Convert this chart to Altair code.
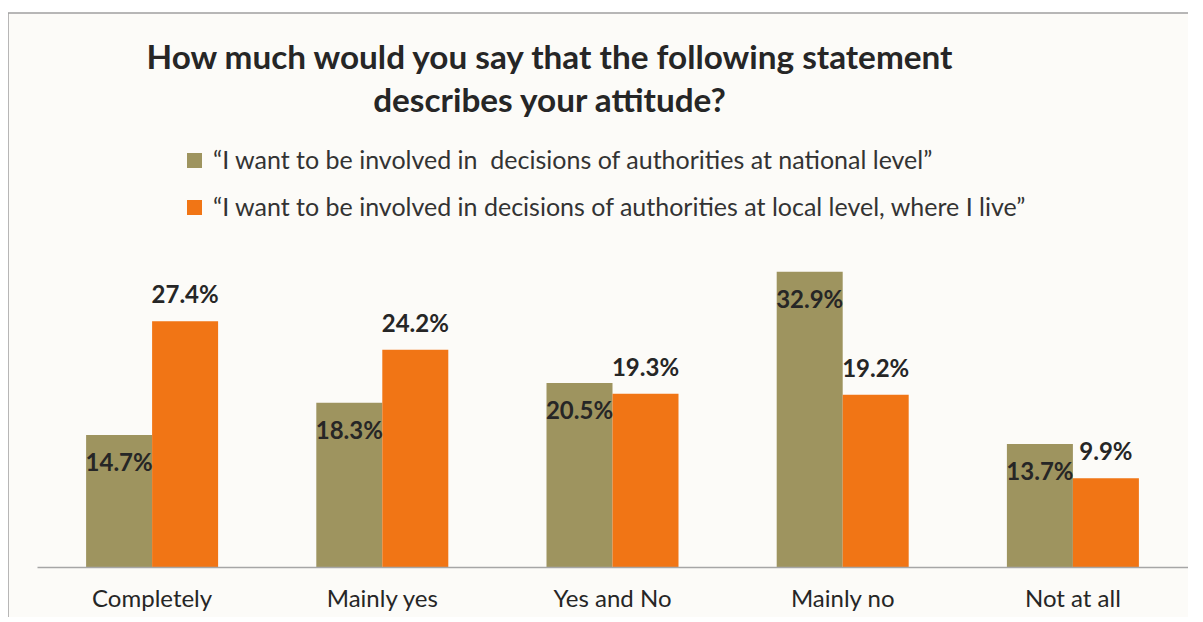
import altair as alt
import pandas as pd

categories = ["Completely", "Mainly yes", "Yes and No", "Mainly no", "Not at all"]
national = [14.7, 18.3, 20.5, 32.9, 13.7]
local = [27.4, 24.2, 19.3, 19.2, 9.9]
series = [
    "\u201cI want to be involved in \u00a0decisions of authorities at national level\u201d",
    "\u201cI want to be involved in decisions of authorities at local level, where I live\u201d",
]
colors = ["#9E945F", "#F17515"]

rows = []
for c, a, b in zip(categories, national, local):
    rows.append({"category": c, "series": series[0], "value": a})
    rows.append({"category": c, "series": series[1], "value": b})
df = pd.DataFrame(rows)

FONT = "Lato"
PLOT_W, PLOT_H = 1151, 323

x = alt.X("category:N", sort=categories, title=None,
          scale=alt.Scale(paddingInner=0.4266, paddingOuter=0.2133),
          axis=alt.Axis(labelAngle=0, labelFontSize=24, labelFont=FONT, labelColor="#262626",
                        ticks=False, labelPadding=20, domainColor="#A6A6A6", domainWidth=1.5,
                        zindex=1))
y = alt.Y("value:Q", scale=alt.Scale(domain=[0, 36]), axis=None)
xo = alt.XOffset("series:N", sort=series)

base = alt.Chart(df)

frame = alt.Chart(pd.DataFrame({"k": [0]})).mark_rect(
    fill="#FCFBF8", stroke="#A0A0A0", strokeWidth=1.5
).encode(x=alt.value(-29), x2=alt.value(1200), y=alt.value(-231), y2=alt.value(400))

bars = base.mark_bar().encode(
    x=x, xOffset=xo, y=y,
    color=alt.Color("series:N", sort=series,
                    scale=alt.Scale(domain=series, range=colors),
                    legend=alt.Legend(title=None, orient="none", legendX=145, legendY=-96,
                                      symbolType="square", symbolSize=225, symbolStrokeWidth=0,
                                      labelFontSize=25, labelFont=FONT, labelColor="#333333",
                                      labelLimit=1000, rowPadding=21, padding=0, labelOffset=6)),
)

lab = base.transform_calculate(label="format(datum.value, '.1f') + '%'")

text_nat = lab.transform_filter(alt.datum.series == series[0]).mark_text(
    fontSize=24, fontWeight="bold", font=FONT, color="#262626", baseline="middle", dy=29
).encode(x=x, xOffset=xo, y=y, text="label:N")

text_loc = lab.transform_filter(alt.datum.series == series[1]).mark_text(
    fontSize=24, fontWeight="bold", font=FONT, color="#262626", baseline="middle", dy=-25
).encode(x=x, xOffset=xo, y=y, text="label:N")

chart = alt.layer(frame, bars, text_nat, text_loc).properties(
    width=PLOT_W, height=PLOT_H,
    title=alt.TitleParams(
        text=["How much would you say that the following statement", "describes your attitude?"],
        fontSize=33.3, font=FONT, fontWeight="bold", color="#262626", anchor="middle",
        frame="group", dx=-63, offset=-107, lineHeight=43),
    padding={"left": 29, "top": 236, "right": 0, "bottom": 50},
    autosize=alt.AutoSizeParams(type="none"),
    background="white",
).configure_view(stroke=None)

chart.save("out.html", embed_options={"renderer": "svg", "actions": False})
